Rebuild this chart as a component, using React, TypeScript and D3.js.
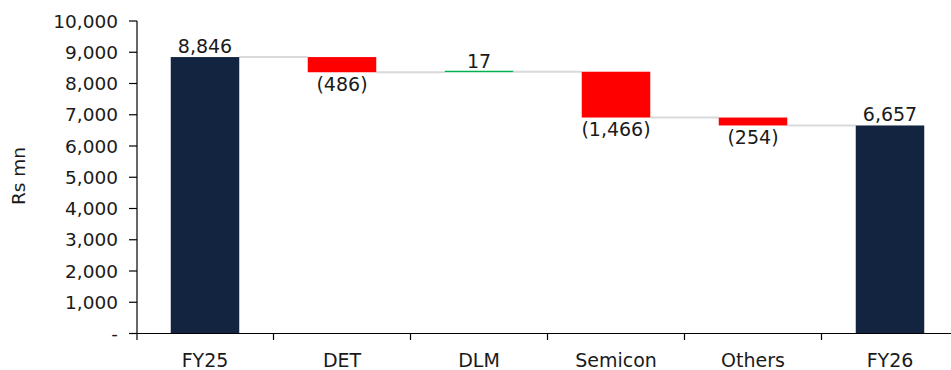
import React from "react";
import * as d3 from "d3";

const categories = ["FY25", "DET", "DLM", "Semicon", "Others", "FY26"];
const values = [8846, -486, 17, -1466, -254, 6657];
const isTotal = [true, false, false, false, false, true];
const yTicks = [0, 1000, 2000, 3000, 4000, 5000, 6000, 7000, 8000, 9000, 10000];

const W = 951;
const H = 370;
const FONT = "'DejaVu Sans', Verdana, sans-serif";

export default function App() {
  const x = d3
    .scaleBand<string>()
    .domain(categories)
    .range([136.5, 958.5])
    .paddingInner(0.5)
    .paddingOuter(0.25);
  const y = d3.scaleLinear().domain([0, 10000]).range([333.5, 21]);
  const step = x.step();
  const fmt = d3.format(",");
  const tickFmt = (v: number) => (v === 0 ? "-" : fmt(v));
  const labelFmt = (v: number) => (v < 0 ? `(${fmt(-v)})` : fmt(v));

  let running = 0;
  const segs = categories.map((c, i) => {
    const v = values[i];
    let start: number, end: number;
    if (isTotal[i]) {
      start = 0;
      end = v;
      running = v;
    } else {
      start = running;
      end = running + v;
      running = end;
    }
    return { c, v, start, end, total: isTotal[i] };
  });

  const colorOf = (s: any) =>
    s.total ? "#12243f" : s.v < 0 ? "#ff0000" : "#00b050";

  return (
    <svg width={W} height={H} style={{ position: "absolute", left: 0, top: 0, display: "block" }}>
      <rect x={0} y={0} width={W} height={H} fill="#ffffff" />
      {segs.slice(0, -1).map((s, i) => {
        const x1 = (x(s.c) as number) + x.bandwidth();
        const x2 = x(segs[i + 1].c) as number;
        const yy = y(s.end);
        return (
          <line key={"c" + i} x1={x1} x2={x2} y1={yy} y2={yy} stroke="#d9d9d9" strokeWidth={2} />
        );
      })}
      {segs.map((s, i) => {
        const top = y(Math.max(s.start, s.end));
        const bot = y(Math.min(s.start, s.end));
        const h = Math.max(bot - top, 1.5);
        return (
          <rect
            key={"b" + i}
            x={x(s.c) as number}
            y={s.total || s.v < 0 ? top : bot - h}
            width={x.bandwidth()}
            height={h}
            fill={colorOf(s)}
          />
        );
      })}
      {segs.map((s, i) => {
        const cx = (x(s.c) as number) + x.bandwidth() / 2;
        const neg = s.v < 0;
        const yy = neg ? y(s.end) + 18.5 : y(s.end) - 4;
        return (
          <text
            key={"l" + i}
            x={cx}
            y={yy}
            textAnchor="middle"
            fontFamily={FONT}
            fontSize={19}
            fill="#1a1a1a"
          >
            {labelFmt(s.v)}
          </text>
        );
      })}
      <line x1={137} x2={137} y1={21} y2={340} stroke="#000" strokeWidth={1.2} />
      {yTicks.map((t) => (
        <g key={"yt" + t}>
          <line x1={129} x2={137} y1={y(t)} y2={y(t)} stroke="#000" strokeWidth={1.2} />
          <text
            x={118}
            y={y(t)}
            dy="0.36em"
            textAnchor="end"
            fontFamily={FONT}
            fontSize={18.5}
            fill="#1a1a1a"
          >
            {tickFmt(t)}
          </text>
        </g>
      ))}
      <line x1={137} x2={958} y1={333.5} y2={333.5} stroke="#000" strokeWidth={1.2} />
      {categories.map((c, i) => (
        <g key={"xt" + c}>
          <line
            x1={136.5 + (i + 1) * step}
            x2={136.5 + (i + 1) * step}
            y1={333.5}
            y2={340}
            stroke="#000"
            strokeWidth={1.2}
          />
          <text
            x={(x(c) as number) + x.bandwidth() / 2}
            y={367}
            textAnchor="middle"
            fontFamily={FONT}
            fontSize={19}
            fill="#1a1a1a"
          >
            {c}
          </text>
        </g>
      ))}
      <text
        transform={`translate(25,176) rotate(-90)`}
        textAnchor="middle"
        fontFamily={FONT}
        fontSize={18.5}
        fill="#1a1a1a"
      >
        Rs mn
      </text>
    </svg>
  );
}
